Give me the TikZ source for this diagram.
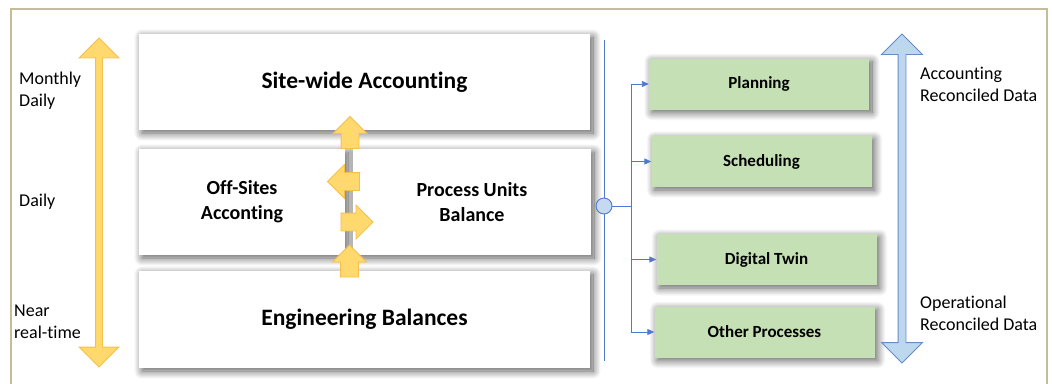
\documentclass[tikz,border=0pt]{standalone}
\usepackage{fontspec}
\setmainfont[Ligatures=NoCommon]{Carlito}
\usepackage{xcolor}
\usepackage{tikz}
\usetikzlibrary{shapes.arrows, shadows.blur, arrows.meta}
\definecolor{framecol}{RGB}{196,189,151}
\definecolor{flowfill}{RGB}{255,217,110}
\definecolor{flowedge}{RGB}{244,192,75}
\definecolor{datafill}{RGB}{189,215,238}
\definecolor{dataedge}{RGB}{100,140,200}
\definecolor{taskgreen}{RGB}{197,224,180}
\definecolor{connblue}{RGB}{80,120,210}
\definecolor{hubfill}{RGB}{197,217,241}

\begin{document}
\begin{tikzpicture}[x=1pt, y=-1pt,
  softshadow/.style={blur shadow={shadow blur steps=12, shadow xshift=3pt, shadow yshift=-3pt, shadow blur radius=8pt, shadow opacity=65}},
  panel/.style={fill=white, inner sep=0pt, align=center, softshadow, font=\bfseries\fontsize{23.5}{28}\selectfont},
  subpanel/.style={panel, font=\bfseries\fontsize{20}{25}\selectfont},
  taskbox/.style={fill=taskgreen, inner sep=0pt, minimum width=220pt, minimum height=51pt, softshadow, font=\bfseries\fontsize{17}{20}\selectfont},
  flowarrow/.style={single arrow, draw=flowedge, fill=flowfill, line width=0.8pt, inner xsep=0pt, inner ysep=8.5pt, minimum height=32pt, single arrow head extend=8pt},
  scalearrow/.style={double arrow, line width=0.8pt, inner xsep=0pt, inner ysep=3pt, minimum height=329pt, double arrow head extend=16.5pt, rotate=90},
  sidelabel/.style={align=left, inner sep=0pt, anchor=west, font=\fontsize{18}{22}\selectfont},
  conn/.style={draw=connblue, line width=0.9pt},
]
\useasboundingbox (0,0) rectangle (1052,383);
\draw[framecol, line width=2pt] (11,390) -- (11,9) -- (1047,9) -- (1047,390);

% time scale on the left
\node[scalearrow, draw=flowedge, fill=flowfill] (timescale) at (99,202.5) {};
\node[sidelabel] (monthly) at (19,91) {Monthly\\Daily};
\node[sidelabel] (daily) at (19,202) {Daily};
\node[sidelabel] (nearrt) at (14,322) {Near\\real-time};

% accounting levels
\node[panel, minimum width=451pt, minimum height=96pt] (sitewide) at (364.5,82) {Site-wide Accounting};
\node[subpanel, minimum width=206pt, minimum height=106pt] (offsites) at (242,202) {Off-Sites\\Acconting};
\node[subpanel, minimum width=238pt, minimum height=106pt] (process) at (472,202) {Process Units\\Balance};
\node[panel, minimum width=451pt, minimum height=97pt] (engineering) at (364.5,319.5) {Engineering Balances};

% flows between levels
\node[flowarrow, rotate=90] (upper) at (350,137) {};
\node[flowarrow, rotate=180] (toofs) at (348,181.5) {};
\node[flowarrow] (toproc) at (352.5,222) {};
\node[flowarrow, rotate=90] (lower) at (349.5,265.5) {};

% distribution to applications
\coordinate (bustop) at (604,40);
\coordinate (busbot) at (604,361);
\draw[conn] (bustop) -- (busbot);
\node[circle, draw=connblue, fill=hubfill, line width=0.9pt, minimum size=16pt, inner sep=0pt] (hub) at (604,206) {};
\coordinate (junction) at (631,206);
\draw[conn] (hub) -- (junction);

\node[taskbox] (plan) at (759,84) {Planning};
\node[taskbox] (sched) at (761.5,161.5) {Scheduling};
\node[taskbox] (twin) at (766.5,259.5) {Digital Twin};
\node[taskbox] (other) at (764.5,332) {Other Processes};
\foreach \t in {plan,sched,twin,other}
  \draw[conn, -{Triangle[length=7pt, width=6pt]}] (junction) |- (\t.west);

% data scale on the right
\node[scalearrow, draw=dataedge, fill=datafill, inner ysep=3.5pt] (datascale) at (902,198.5) {};
\node[sidelabel] (acctdata) at (920,84) {Accounting\\Reconciled Data};
\node[sidelabel] (operdata) at (920,313) {Operational\\Reconciled Data};
\end{tikzpicture}
\end{document}
